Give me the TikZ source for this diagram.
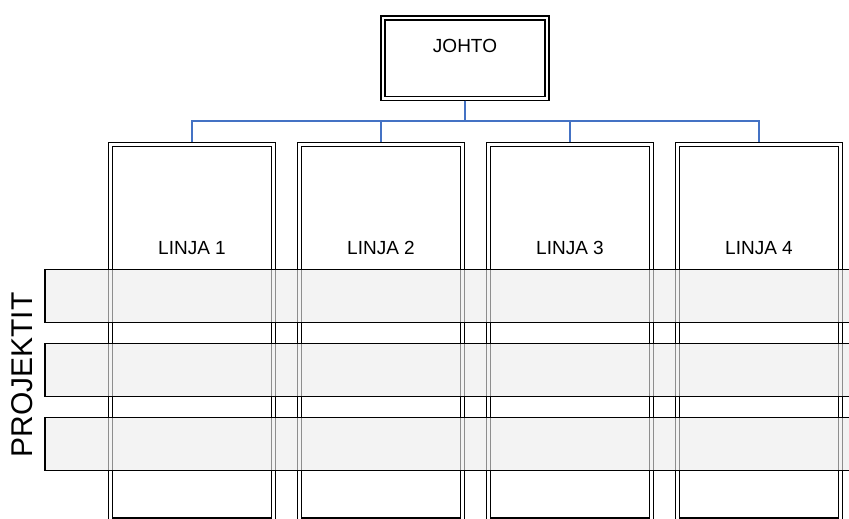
\documentclass[tikz,border=0pt]{standalone}
\usepackage{fontspec}
\setmainfont{Liberation Sans}
\usetikzlibrary{positioning}
\definecolor{linkblue}{HTML}{4472C4}
\begin{document}
\begin{tikzpicture}[x=1pt,y=-1pt,
  dbox/.style={draw,double=white,double distance=2.5pt,line width=1.5pt,inner sep=0pt},
  bar/.style={draw,line width=1.4pt,fill=black!8,fill opacity=0.6,draw opacity=1,
    minimum width=815pt,minimum height=52.5pt,inner sep=0pt},
  lbl/.style={font=\fontsize{19}{22}\selectfont,anchor=base,inner sep=0pt},
  link/.style={draw=linkblue,line width=1.4pt}]
\useasboundingbox (0,0) rectangle (849,519);
\clip (0,0) rectangle (849,519);
\node[dbox,minimum width=164pt,minimum height=80.5pt] (johto) at (465,58.2) {};
\node[lbl] (tjohto) at ([yshift=-35.3pt]johto.north) {JOHTO};
\coordinate (bus) at (465,121);
\foreach \i in {1,...,4} {
  \node[dbox,minimum width=163.4pt,minimum height=375.3pt] (l\i) at ({192+189*(\i-1)},332.3) {};
  \node[lbl] (t\i) at ([yshift=-111pt]l\i.north) {LINJA \i};
  \draw[link,shorten <=1.5pt,shorten >=2pt] (johto.south) -- (bus) -| (l\i.north);
}
\foreach \y [count=\j] in {296,370,444}
  \node[bar] (p\j) at (452.5,\y) {};
\node[rotate=90,font=\fontsize{30}{34}\selectfont] (proj) at (22,375) {PROJEKTIT};
\end{tikzpicture}
\end{document}
